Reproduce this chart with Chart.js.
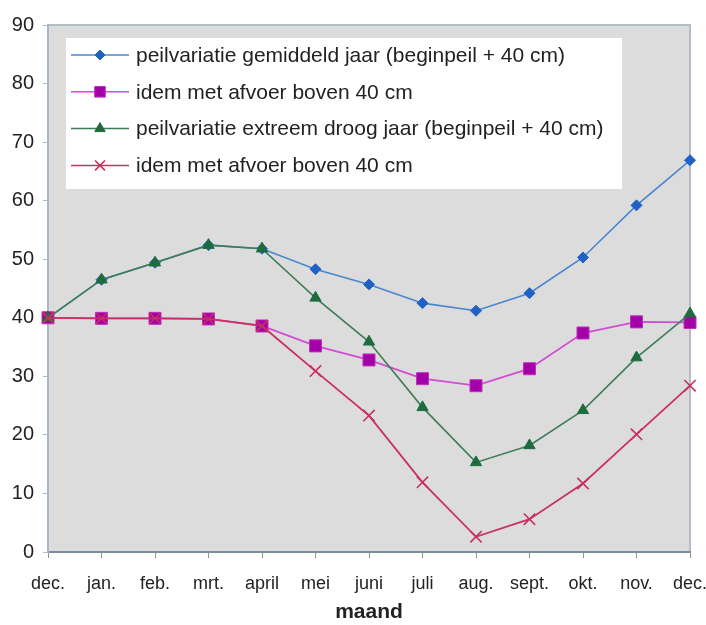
<!DOCTYPE html>
<html>
<head>
<meta charset="utf-8">
<script src="https://cdn.jsdelivr.net/npm/chart.js@4/dist/chart.umd.min.js"></script>
<style>
  html, body { margin: 0; padding: 0; background: #ffffff; }
  #wrap { width: 706px; height: 625px; position: relative; }
</style>
</head>
<body>
<div id="wrap"><canvas id="c" width="706" height="625"></canvas></div>
<script>
const months = ["dec.", "jan.", "feb.", "mrt.", "april", "mei", "juni", "juli", "aug.", "sept.", "okt.", "nov.", "dec."];
const yTicks = [0, 10, 20, 30, 40, 50, 60, 70, 80, 90];
const gemiddeld = [40, 46.5, 49.4, 52.4, 51.8, 48.3, 45.7, 42.5, 41.2, 44.2, 50.3, 59.2, 66.9];
const gemiddeldAfvoer = [40, 39.9, 39.9, 39.8, 38.6, 35.2, 32.8, 29.6, 28.4, 31.3, 37.4, 39.3, 39.2];
const droog = [40, 46.5, 49.4, 52.4, 51.8, 43.4, 35.9, 24.7, 15.3, 18.2, 24.2, 33.2, 40.7];
const droogAfvoer = [40, 39.9, 39.9, 39.8, 38.6, 30.9, 23.3, 11.9, 2.6, 5.6, 11.7, 20.1, 28.4];
const labels = [
  "peilvariatie gemiddeld jaar (beginpeil + 40 cm)",
  "idem met afvoer boven 40 cm",
  "peilvariatie extreem droog jaar (beginpeil + 40 cm)",
  "idem met afvoer boven 40 cm"
];
const xTitle = "maand";

const FONT = "'Liberation Sans', Arial, sans-serif";

const plotBg = {
  id: 'plotBg',
  beforeDraw(chart) {
    const {ctx, chartArea: a} = chart;
    ctx.save();
    ctx.fillStyle = '#dcdcdd';
    ctx.fillRect(a.left, a.top, a.right - a.left, a.bottom - a.top);
    ctx.strokeStyle = '#b4bcc6';
    ctx.lineWidth = 2;
    ctx.beginPath();
    ctx.moveTo(a.left, a.top);
    ctx.lineTo(a.right, a.top);
    ctx.lineTo(a.right, a.bottom);
    ctx.stroke();
    ctx.restore();
  }
};

const boxLegend = {
  id: 'boxLegend',
  afterDraw(chart) {
    const {ctx, chartArea: a} = chart;
    const x0 = a.left + 18, y0 = a.top + 13, w = 556, h = 151;
    ctx.save();
    ctx.fillStyle = '#ffffff';
    ctx.fillRect(x0, y0, w, h);
    const rowH = 36.8;
    const legendRadius = [5, 7.5, 6, 7];
    chart.data.datasets.forEach((ds, i) => {
      const cy = y0 + 17 + i * rowH;
      ctx.strokeStyle = ds.borderColor;
      ctx.lineWidth = 1.5;
      ctx.beginPath();
      ctx.moveTo(x0 + 5, cy);
      ctx.lineTo(x0 + 63, cy);
      ctx.stroke();
      ctx.fillStyle = ds.pointBackgroundColor;
      ctx.strokeStyle = ds.pointBorderColor;
      ctx.lineWidth = ds.pointBorderWidth || 1;
      Chart.helpers.drawPoint(ctx, {
        pointStyle: ds.pointStyle,
        radius: legendRadius[i],
        borderWidth: ds.pointBorderWidth || 1,
        rotation: 0
      }, x0 + 34, cy);
      ctx.fillStyle = '#222222';
      ctx.font = '21px ' + FONT;
      ctx.textBaseline = 'middle';
      ctx.textAlign = 'left';
      ctx.fillText(ds.label, x0 + 70, cy + 1);
    });
    ctx.restore();
  }
};

new Chart(document.getElementById('c'), {
  type: 'line',
  data: {
    labels: months,
    datasets: [
      {
        label: labels[0], data: gemiddeld,
        borderColor: '#4a86d0', borderWidth: 1.6,
        pointStyle: 'rectRot', pointRadius: 5.5,
        pointBackgroundColor: '#1f62c4', pointBorderColor: '#1f62c4', pointBorderWidth: 1,
        tension: 0, order: 4
      },
      {
        label: labels[1], data: gemiddeldAfvoer,
        borderColor: '#d34cd3', borderWidth: 1.8,
        pointStyle: 'rect', pointRadius: 8.5,
        pointBackgroundColor: '#a300a8', pointBorderColor: '#c030c0', pointBorderWidth: 1,
        tension: 0, order: 3
      },
      {
        label: labels[2], data: droog,
        borderColor: '#3f7d58', borderWidth: 1.6,
        pointStyle: 'triangle', pointRadius: 6.5,
        pointBackgroundColor: '#1e6b3e', pointBorderColor: '#1e6b3e', pointBorderWidth: 1,
        tension: 0, order: 2
      },
      {
        label: labels[3], data: droogAfvoer,
        borderColor: '#c8325f', borderWidth: 1.8,
        pointStyle: 'crossRot', pointRadius: 8,
        pointBackgroundColor: '#c8305e', pointBorderColor: '#c8305e', pointBorderWidth: 1.6,
        tension: 0, order: 1
      }
    ]
  },
  options: {
    responsive: false,
    animation: false,
    layout: { padding: { left: 0, right: 16, top: 25, bottom: 0 } },
    plugins: {
      legend: { display: false },
      tooltip: { enabled: false }
    },
    scales: {
      x: {
        offset: false,
        grid: { drawOnChartArea: false, drawTicks: true, tickLength: 6, color: '#8a96a4' },
        border: { display: true, color: '#7f8c99', width: 2 },
        ticks: { color: '#222222', font: { family: FONT, size: 18 }, padding: 15, maxRotation: 0, autoSkip: false },
        title: { display: true, text: xTitle, color: '#222222', font: { family: FONT, size: 21, weight: 'bold' }, padding: { top: 0, bottom: 0 } },
        afterFit(s) { s.height = 73; s.paddingLeft = 0; s.paddingRight = 0; }
      },
      y: {
        min: 0, max: 90,
        afterBuildTicks(s) { s.ticks = yTicks.map(v => ({ value: v })); },
        grid: { drawOnChartArea: false, drawTicks: true, tickLength: 5, color: '#aab8c8' },
        border: { display: true, color: '#a8b8cc', width: 2 },
        ticks: { color: '#222222', font: { family: FONT, size: 20 }, padding: 9 },
        afterFit(s) { s.width = 48; s.paddingTop = 0; s.paddingBottom = 0; }
      }
    }
  },
  plugins: [plotBg, boxLegend]
});
</script>
</body>
</html>
